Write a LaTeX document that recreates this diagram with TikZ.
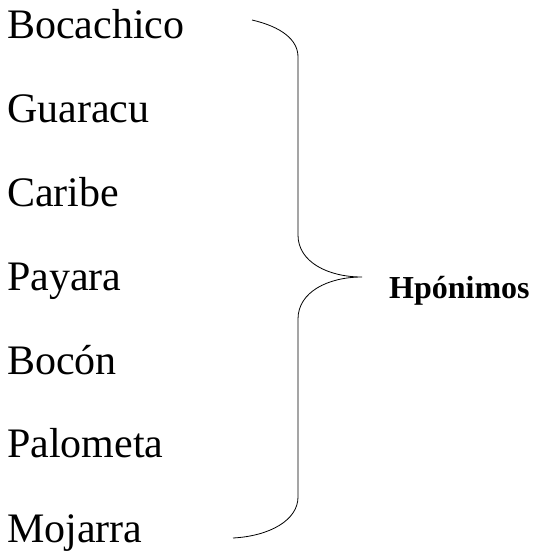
\documentclass[tikz,border=0pt]{standalone}
\usepackage{fontspec}
\setmainfont{Liberation Serif}
\usepackage{tikz}

\begin{document}
\begin{tikzpicture}[x=1pt,y=-1pt]
\useasboundingbox (0,0) rectangle (550,552);
\begin{scope}[every node/.style={anchor=base west,inner sep=0pt,font=\fontsize{42}{46}\selectfont}]
\node (0) at (7,38)  {Bocachico};
\node (1) at (7,122) {Guaracu};
\node (2) at (7,206) {Caribe};
\node (3) at (7,290) {Payara};
\node (4) at (7,374) {Bocón};
\node (5) at (7,457) {Palometa};
\node (6) at (7,542) {Mojarra};
\end{scope}

\node[anchor=base west,inner sep=0pt,font=\fontsize{32}{36}\selectfont\bfseries] (h) at (389,298) {Hpónimos};

% brace
\coordinate (top) at (252,20);
\coordinate (tip) at (362,277);
\coordinate (bot) at (233,538);
\draw[line width=0.8pt] (top) .. controls (282,27) and (298,40) .. (298,57)
  -- (298,235) .. controls (298,262) and (328,277) .. (tip)
  .. controls (328,277) and (298,292) .. (298,319)
  -- (298,497) .. controls (298,520) and (270,536) .. (bot);
\end{tikzpicture}
\end{document}
